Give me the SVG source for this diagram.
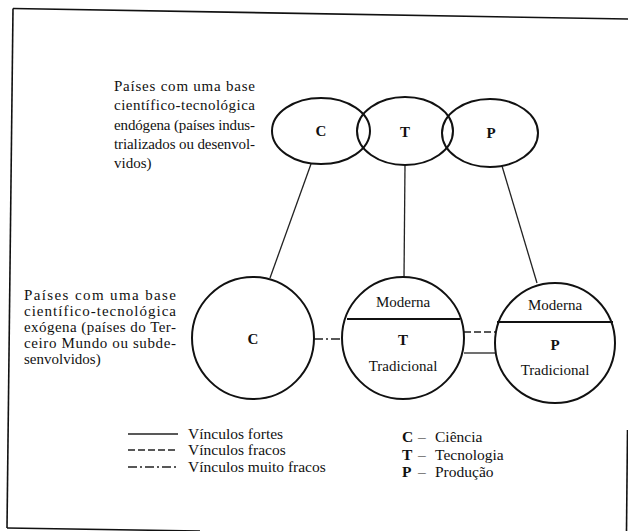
<svg xmlns="http://www.w3.org/2000/svg" width="628" height="531" viewBox="0 0 628 531">
<style>
.t{font-family:"Liberation Serif","Times New Roman",serif;fill:#111;}
.lbl{font-size:15px;font-weight:bold;text-anchor:middle;}
.sub{font-size:15px;text-anchor:middle;}
.para{font-size:15px;}
.leg{font-size:15.5px;}
.shape{fill:none;stroke:#111;stroke-width:2;}
.ln{fill:none;stroke:#222;stroke-width:1.3;}
.dash{stroke-dasharray:7 3;}
.dashdot{stroke-dasharray:9 3 2 3;}
.frame{fill:none;stroke:#111;stroke-width:1.6;}
</style>
<rect width="628" height="531" fill="#fff"/>
<g id="frame">
<line class="frame" x1="13" y1="8.5" x2="628" y2="19"/>
<line class="frame" x1="13" y1="8.5" x2="7" y2="528"/>
<line class="frame" x1="7" y1="528" x2="200" y2="531"/>
<line class="frame" x1="627.5" y1="430" x2="626.5" y2="531"/>
</g>
<g id="label-endogena" class="t para">
<text x="114" y="91" textLength="141" lengthAdjust="spacing">Países com uma base</text>
<text x="114" y="110" textLength="141" lengthAdjust="spacing">científico-tecnológica</text>
<text x="114" y="130" textLength="141" lengthAdjust="spacing">endógena (países indus-</text>
<text x="114" y="149" textLength="141" lengthAdjust="spacing">trializados ou desenvol-</text>
<text x="114" y="168">vidos)</text>
</g>
<g id="label-exogena" class="t para">
<text x="24" y="300" textLength="152" lengthAdjust="spacing">Países com uma base</text>
<text x="24" y="316" textLength="152" lengthAdjust="spacing">científico-tecnológica</text>
<text x="24" y="332" textLength="152" lengthAdjust="spacing">exógena (países do Ter-</text>
<text x="24" y="348" textLength="152" lengthAdjust="spacing">ceiro Mundo ou subde-</text>
<text x="24" y="364">senvolvidos)</text>
</g>
<g id="connectors">
<line class="ln" x1="311" y1="164" x2="270" y2="278"/>
<line class="ln" x1="405" y1="165" x2="404" y2="278"/>
<line class="ln" x1="502" y1="166" x2="537" y2="283"/>
<line class="ln dashdot" x1="314" y1="339" x2="343" y2="339"/>
<line class="ln dash" x1="464" y1="332" x2="495" y2="332"/>
<line class="ln" x1="464" y1="353" x2="495" y2="353"/>
</g>
<g id="top-C">
<ellipse class="shape" cx="321" cy="131" rx="49" ry="33"/>
<text class="t lbl" x="321" y="136">C</text>
</g>
<g id="top-T">
<ellipse class="shape" cx="405" cy="131" rx="48" ry="34"/>
<text class="t lbl" x="405" y="137">T</text>
</g>
<g id="top-P">
<ellipse class="shape" cx="490" cy="133" rx="48" ry="34"/>
<text class="t lbl" x="491" y="138">P</text>
</g>
<g id="bottom-C">
<circle class="shape" cx="253" cy="338" r="61"/>
<text class="t lbl" x="253" y="344">C</text>
</g>
<g id="bottom-T">
<circle class="shape" cx="403" cy="338" r="61"/>
<line class="shape" x1="347" y1="319" x2="460" y2="319"/>
<text class="t sub" x="403" y="307">Moderna</text>
<text class="t lbl" x="403" y="345">T</text>
<text class="t sub" x="403" y="371">Tradicional</text>
</g>
<g id="bottom-P">
<circle class="shape" cx="555" cy="343" r="60"/>
<line class="shape" x1="497" y1="322" x2="613" y2="322"/>
<text class="t sub" x="555" y="310">Moderna</text>
<text class="t lbl" x="555" y="350">P</text>
<text class="t sub" x="555" y="375">Tradicional</text>
</g>
<g id="legend-lines">
<line class="ln" x1="128" y1="434" x2="178" y2="434"/>
<line class="ln dash" x1="128" y1="450" x2="178" y2="450"/>
<line class="ln dashdot" x1="128" y1="467" x2="178" y2="467"/>
<text class="t leg" x="188" y="439">Vínculos fortes</text>
<text class="t leg" x="188" y="455">Vínculos fracos</text>
<text class="t leg" x="188" y="472">Vínculos muito fracos</text>
</g>
<g id="legend-letters" class="t leg">
<text x="402" y="442" font-weight="bold">C</text><text x="418" y="442">–</text><text x="435" y="442">Ciência</text>
<text x="402" y="460" font-weight="bold">T</text><text x="418" y="460">–</text><text x="435" y="460">Tecnologia</text>
<text x="402" y="477" font-weight="bold">P</text><text x="418" y="477">–</text><text x="435" y="477">Produção</text>
</g>
</svg>
